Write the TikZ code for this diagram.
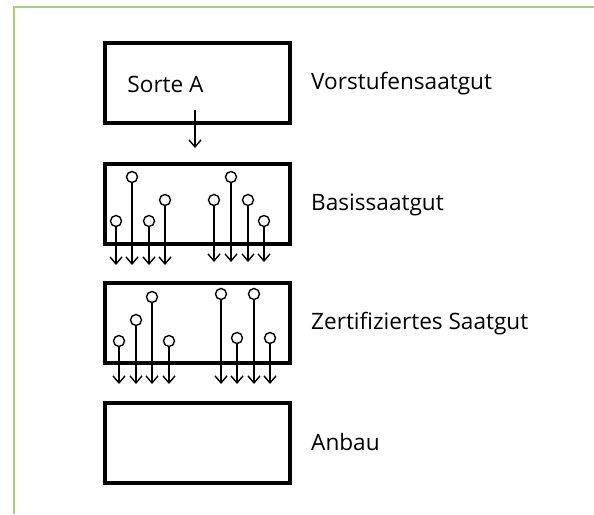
\documentclass[tikz,border=0pt]{standalone}
\usepackage{fontspec}
\setmainfont{Open Sans}
\usetikzlibrary{arrows.meta}
\definecolor{framegreen}{RGB}{170,208,112}
\begin{document}
\begin{tikzpicture}[x=1pt,y=-1pt,
  stagebox/.style={draw=black,line width=3.5pt,minimum width=185pt,minimum height=80pt,inner sep=0pt,anchor=north west},
  pinhead/.style={circle,draw=black,line width=1.4pt,minimum size=11pt,inner sep=0pt,fill=white},
  pinline/.style={line width=1.4pt,-{Straight Barb[length=7pt,width=12pt]}},
  lbl/.style={anchor=base west,inner sep=0pt,font=\fontsize{22.6}{27}\selectfont}]
\useasboundingbox (0,0) rectangle (594,514);
% frame
\draw[framegreen,line width=2pt] (14,514) -- (14,7) -- (594,7);
% boxes
\node[stagebox] (b1) at (103,41) {};
\node[stagebox] (b2) at (103,162) {};
\node[stagebox] (b3) at (103,281) {};
\node[stagebox] (b4) at (103,401) {};
\node[anchor=base,inner sep=0pt,font=\fontsize{22.6}{27}\selectfont] (sorte) at (165.5,92) {Sorte A};
% labels
\node[lbl] (l1) at (311,89) {Vorstufensaatgut};
\node[lbl] (l2) at (311,210) {Basissaatgut};
\node[lbl] (l3) at (311,329) {Zertifiziertes Saatgut};
\node[lbl] (l4) at (311,450) {Anbau};
% arrow from Sorte A
\coordinate (s0) at (195,110);
\coordinate (s1) at (195,148);
\draw[pinline] (s0) -- (s1);
% pins box 2
\foreach \x/\y/\t [count=\i] in {116/221/265,132/177/265,149/221/265,165/200/265,214/200/262,231/177/262,248/200/262,264/221/262}{
  \coordinate (bt\i) at (\x,\t);
  \draw[pinline] (\x,\y) -- (bt\i);
  \node[pinhead] (bp\i) at (\x,\y) {};
}
% pins box 3
\foreach \x/\y/\t [count=\i] in {119/341/384,136/320/384,152/297/384,169/341/384,221/294/384,237/338/384,254/294/384,270/338/384}{
  \coordinate (ct\i) at (\x,\t);
  \draw[pinline] (\x,\y) -- (ct\i);
  \node[pinhead] (cp\i) at (\x,\y) {};
}
\end{tikzpicture}
\end{document}
